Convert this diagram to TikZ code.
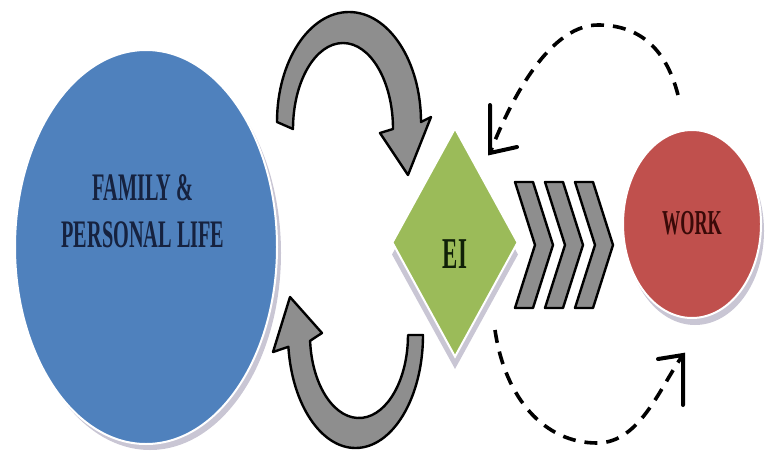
\documentclass[tikz,border=0pt]{standalone}
\usepackage{graphicx}
\usepackage{fontspec}
\setmainfont{Liberation Serif}
\usetikzlibrary{shapes.geometric}
\definecolor{famblue}{HTML}{4F81BD}
\definecolor{famtext}{HTML}{16223F}
\definecolor{eigreen}{HTML}{9BBB59}
\definecolor{eitext}{HTML}{102008}
\definecolor{workred}{HTML}{C0504D}
\definecolor{worktext}{HTML}{3A0A08}
\definecolor{shapeshadow}{HTML}{C9C6D4}
\definecolor{arrowgray}{HTML}{8E8E8E}
\newcommand{\narrowtext}[2]{\scalebox{0.52}[1]{\fontsize{#1}{47}\selectfont\bfseries #2}}

\begin{document}
\begin{tikzpicture}[x=1pt,y=1pt,
	bigshape/.style={draw=white,line width=2pt,inner sep=0pt},
	grayarrow/.style={fill=arrowgray,draw=black,line width=2.4pt,line join=round},
	dasharrow/.style={draw=black,line width=3.6pt,dash pattern=on 13pt off 9pt},
	barb/.style={draw=black,line width=4pt,line cap=round,line join=miter}]
	\useasboundingbox (0,0) rectangle (767,459);
	% shadows
	\fill[shapeshadow] (150,206) ellipse (131pt and 197pt);
	\fill[shapeshadow] (695,228) ellipse (69pt and 94pt);
	\fill[shapeshadow] (455,319) -- (518,204.5) -- (455,90) -- (392,204.5) -- cycle;
	% the three shapes
	\node[bigshape,ellipse,fill=famblue,minimum width=262pt,minimum height=394pt] (family) at (146,212) {};
	\node[bigshape,diamond,fill=eigreen,minimum width=126pt,minimum height=229pt,shape aspect=0.55] (ei) at (455,216.5) {};
	\node[bigshape,ellipse,fill=workred,minimum width=138pt,minimum height=188pt] (work) at (692,235) {};
	\node[text=famtext] (familytext) at (143,244) {\narrowtext{39}{\begin{tabular}{@{}c@{}}FAMILY \&\\PERSONAL LIFE\end{tabular}}};
	\node[text=eitext] (eitext) at (455,205) {\narrowtext{44}{EI}};
	\node[text=worktext] (worktext) at (692,236) {\narrowtext{35}{WORK}};
	% curved gray arrows
	\draw[grayarrow] (277,337) arc[start angle=180,end angle=0,x radius=72pt,y radius=110pt]
		-- (431,342) -- (408,284) -- (380,326) -- (393,330)
		arc[start angle=0,end angle=180,x radius=50pt,y radius=86pt] -- cycle;
	\draw[grayarrow] (423,124) arc[start angle=0,end angle=-174,x radius=67.5pt,y radius=113pt]
		-- (273,107) -- (290,162) -- (322,126) -- (310.1,118.2)
		arc[start angle=184,end angle=360,x radius=49pt,y radius=83pt] -- cycle;
	% chevrons
	\foreach \dx in {0,30,60}
		\draw[grayarrow] (515+\dx,277) -- (533+\dx,277) -- (553+\dx,214) -- (533+\dx,151)
			-- (515+\dx,151) -- (535+\dx,214) -- cycle;
	% dashed arrows
	\coordinate (worktop) at (678,364);
	\coordinate (eitop) at (490,306);
	\coordinate (eibottom) at (495,129);
	\coordinate (workbottom) at (683,104);
	\draw[dasharrow] (worktop) .. controls (665,415) and (635,434) .. (598,434)
		.. controls (545,434) and (505,345) .. (eitop);
	\draw[barb] ([yshift=48pt]eitop) -- (eitop) -- ++(27pt,6pt);
	\draw[dasharrow] (eibottom) .. controls (505,60) and (545,16) .. (597,16)
		.. controls (640,16) and (660,72) .. (workbottom);
	\draw[barb] ([xshift=-25pt,yshift=-4pt]workbottom) -- (workbottom) -- ++(0,-50pt);
\end{tikzpicture}
\end{document}
